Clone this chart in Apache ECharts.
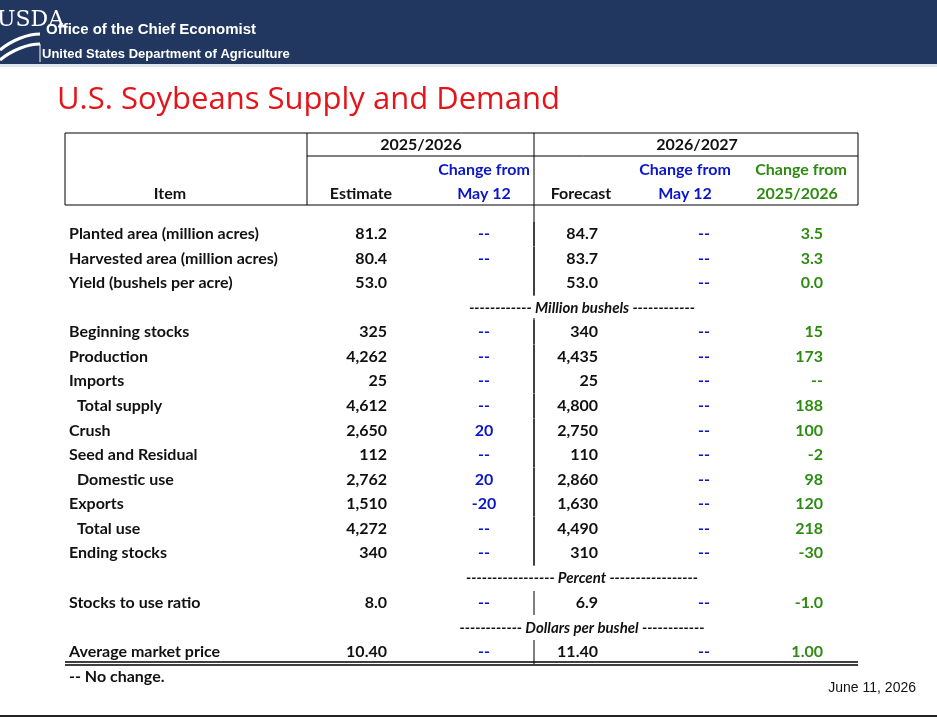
<!DOCTYPE html>
<html>
<head>
<meta charset="utf-8">
<script src="https://cdn.jsdelivr.net/npm/echarts@6/dist/echarts.min.js"></script>
<style>html,body{margin:0;padding:0;background:#fff}#main{width:937px;height:720px}</style>
</head>
<body>
<div id="main"></div>
<script>
// rows of the table
var items = ['Planted area (million acres)', 'Harvested area (million acres)', 'Yield (bushels per acre)',
  '#Million bushels',
  'Beginning stocks', 'Production', 'Imports', ' Total supply', 'Crush', 'Seed and Residual',
  ' Domestic use', 'Exports', ' Total use', 'Ending stocks',
  '#Percent', 'Stocks to use ratio', '#Dollars per bushel', 'Average market price'];
var estimate2526 = ['81.2', '80.4', '53.0', '', '325', '4,262', '25', '4,612', '2,650', '112', '2,762', '1,510', '4,272', '340', '', '8.0', '', '10.40'];
var changeMay2526 = ['--', '--', '', '', '--', '--', '--', '--', '20', '--', '20', '-20', '--', '--', '', '--', '', '--'];
var forecast2627 = ['84.7', '83.7', '53.0', '', '340', '4,435', '25', '4,800', '2,750', '110', '2,860', '1,630', '4,490', '310', '', '6.9', '', '11.40'];
var changeMay2627 = ['--', '--', '--', '', '--', '--', '--', '--', '--', '--', '--', '--', '--', '--', '', '--', '', '--'];
var changeYear = ['3.5', '3.3', '0.0', '', '15', '173', '--', '188', '100', '-2', '98', '120', '218', '-30', '', '-1.0', '', '1.00'];
var rowY = [234, 259, 283, 308, 332, 357, 381, 406, 431, 455, 480, 504, 529, 553, 578, 603, 628, 652];

var FONT = 'Lato, "Open Sans", sans-serif';
var BLUE = '#0a16c8', GREEN = '#2e8b12', INK = '#111';

var g = [];
function txt(x, y, s, o) {
  o = o || {};
  g.push({type: 'text', x: x, y: y, silent: true, style: {
    text: s, fill: o.fill || INK, font: (o.style || 'normal') + ' ' + (o.weight || 'bold') + ' ' + (o.size || 16) + 'px ' + (o.family || FONT),
    textAlign: o.align || 'left', textVerticalAlign: 'middle'}});
}
function line(x1, y1, x2, y2, w, c) {
  g.push({type: 'line', silent: true, shape: {x1: x1, y1: y1, x2: x2, y2: y2}, style: {stroke: c || '#000', lineWidth: w || 1}});
}

// header banner
g.push({type: 'rect', shape: {x: 0, y: 0, width: 937, height: 64}, style: {fill: '#21375f'}});
g.push({type: 'rect', shape: {x: 0, y: 64, width: 937, height: 3}, style: {fill: '#dfe6ee'}});
txt(-3, 20, 'USDA', {fill: '#fff', weight: 'normal', size: 22, family: '"DejaVu Serif", serif'});
g.push({type: 'bezierCurve', shape: {x1: 0, y1: 50, x2: 40, y2: 34, cpx1: 12, cpy1: 40, cpx2: 28, cpy2: 34}, style: {stroke: '#fff', lineWidth: 3, fill: null}});
g.push({type: 'bezierCurve', shape: {x1: 0, y1: 60, x2: 40, y2: 44, cpx1: 12, cpy1: 50, cpx2: 28, cpy2: 44}, style: {stroke: '#fff', lineWidth: 3, fill: null}});
line(40, 44, 40, 62, 1, '#fff');
txt(46, 30, 'Office of the Chief Economist', {fill: '#fff', size: 15, family: '"Liberation Sans", Arial, sans-serif'});
txt(42, 54, 'United States Department of Agriculture', {fill: '#fff', size: 13, family: '"Liberation Sans Narrow", "Liberation Sans", sans-serif'});

// title
txt(57, 100, 'U.S. Soybeans Supply and Demand', {fill: '#e3151b', weight: 'normal', size: 31, family: '"Open Sans", sans-serif'});

// table frame
line(65, 133, 858, 133); line(307, 156, 858, 156); line(65, 205, 858, 205);
line(65, 133, 65, 205); line(307, 133, 307, 205); line(858, 133, 858, 205);
line(534, 133, 534, 205);
line(65, 662, 858, 662, 1.5); line(65, 665, 858, 665, 1.5);
line(0, 716, 937, 716, 2, '#222');

// column heads
txt(421, 145, '2025/2026'); txt(697, 145, '2026/2027');
txt(484, 170, 'Change from', {fill: BLUE}); txt(484, 194, 'May 12', {fill: BLUE});
txt(685, 170, 'Change from', {fill: BLUE}); txt(685, 194, 'May 12', {fill: BLUE});
txt(801, 170, 'Change from', {fill: GREEN}); txt(797, 194, '2025/2026', {fill: GREEN});
txt(170, 194, 'Item'); txt(361, 194, 'Estimate'); txt(581, 194, 'Forecast');
[g[g.length - 1], g[g.length - 2], g[g.length - 3]].forEach(function (e) { e.style.textAlign = 'center'; });
g.forEach(function (e) { if (e.type === 'text' && e.y >= 140 && e.y <= 194 && e.style.textAlign === 'left' && e.x > 300) e.style.textAlign = 'center'; });

// body
items.forEach(function (name, i) {
  var y = rowY[i];
  if (name.charAt(0) === '#') {
    var lab = name.slice(1), dash = lab === 'Percent' ? '-----------------' : '------------';
    txt(582, y, dash + ' ' + lab + ' ' + dash, {style: 'italic', align: 'center', size: 15});
    return;
  }
  txt(name.charAt(0) === ' ' ? 77 : 69, y, name.trim());
  txt(387, y, estimate2526[i], {align: 'right'});
  txt(484, y, changeMay2526[i], {fill: BLUE, align: 'center'});
  txt(598, y, forecast2627[i], {align: 'right'});
  txt(704, y, changeMay2627[i], {fill: BLUE, align: 'center'});
  txt(823, y, changeYear[i], {fill: GREEN, align: 'right'});
  line(534, y - 12, 534, y + 12);
});
line(534, 205, 534, 296);
line(534, 318, 534, 566);

txt(69, 677, '-- No change.');
txt(916, 688, 'June 11, 2026', {weight: 'normal', size: 14, align: 'right', family: '"Liberation Sans", Arial, sans-serif'});

var chart = echarts.init(document.getElementById('main'), null, {renderer: 'canvas'});
chart.setOption({animation: false, graphic: {elements: g}});
</script>
</body>
</html>
